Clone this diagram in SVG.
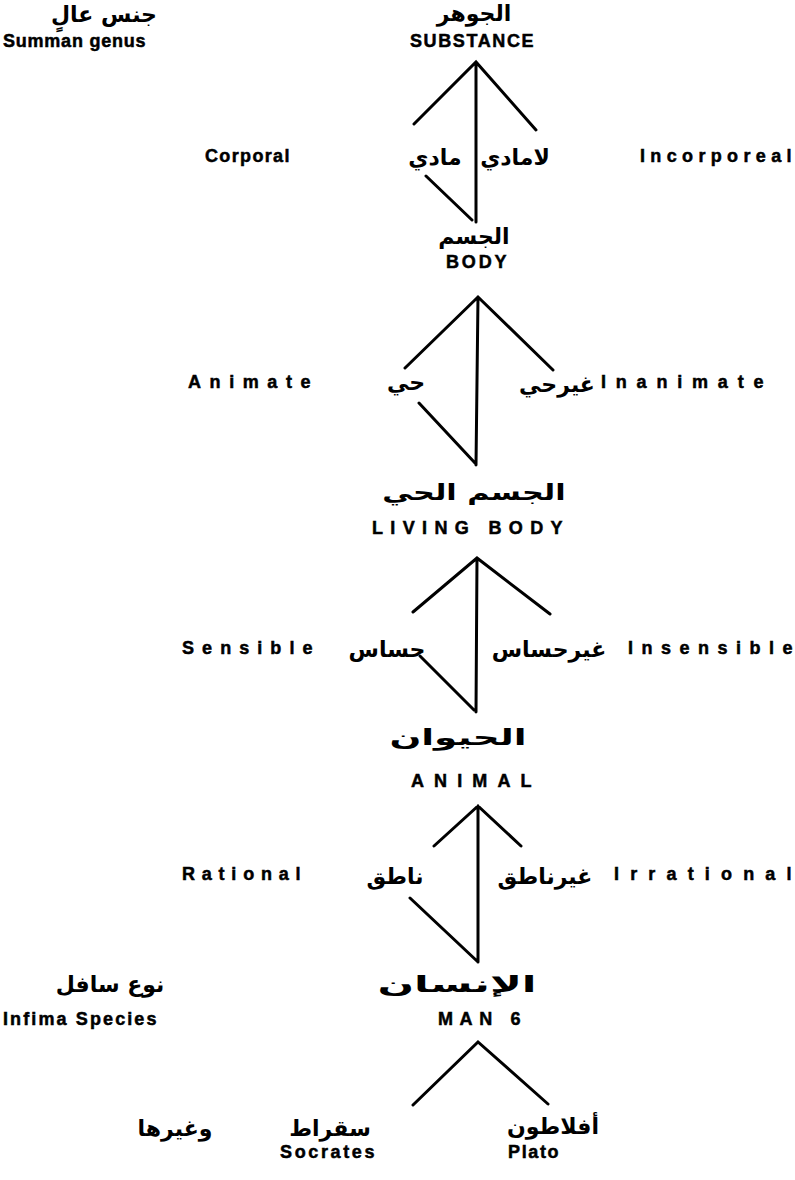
<svg xmlns="http://www.w3.org/2000/svg" width="795" height="1180" viewBox="0 0 795 1180">
<style>
.en{font-family:"Liberation Sans",Arial,sans-serif;font-weight:bold;font-size:18px;fill:#000;stroke:#000;stroke-width:0.5;letter-spacing:1.5px}
.ar{font-family:"DejaVu Sans",sans-serif;font-weight:bold;font-size:22px;fill:#000;text-anchor:middle}
.ln{stroke:#000;stroke-width:3;stroke-linecap:round;fill:none}
</style>
<rect width="795" height="1180" fill="#fff"/>
<g id="summum">
<text class="ar" x="104" y="22" font-size="17">جنس عالٍ</text>
<text class="en" x="3" y="47" textLength="144">Summan genus</text>
</g>
<g id="substance">
<text class="ar" x="474" y="21" font-size="17">الجوهر</text>
<text class="en" x="410" y="47" textLength="125">SUBSTANCE</text>
</g>
<g id="corporal">
<text class="en" x="205" y="162" textLength="86">Corporal</text>
<text class="ar" x="435" y="165" font-size="24">مادي</text>
</g>
<g id="incorporeal">
<text class="ar" x="515" y="165" font-size="22">لامادي</text>
<text class="en" x="640" y="162" textLength="153">Incorporeal</text>
</g>
<g id="body">
<text class="ar" x="474" y="244">الجسم</text>
<text class="en" x="446" y="268" textLength="62">BODY</text>
</g>
<g id="animate">
<text class="en" x="188" y="388" textLength="124">Animate</text>
<text class="ar" x="406" y="390" font-size="24">حي</text>
</g>
<g id="inanimate">
<text class="ar" x="557" y="392" font-size="20">غيرحي</text>
<text class="en" x="601" y="388" textLength="164">Inanimate</text>
</g>
<g id="livingbody">
<text class="ar" transform="translate(474,500) scale(1.38,1)" x="0" y="0" font-size="26">الجسم الحي</text>
<text class="en" x="372" y="534" textLength="192">LIVING BODY</text>
</g>
<g id="sensible">
<text class="en" x="182" y="654" textLength="132">Sensible</text>
<text class="ar" x="387" y="657" font-size="27">حساس</text>
</g>
<g id="insensible">
<text class="ar" x="549" y="657" font-size="24">غيرحساس</text>
<text class="en" x="628" y="654" textLength="166">Insensible</text>
</g>
<g id="animal">
<text class="ar" transform="translate(458,745) scale(1.7,1)" x="0" y="0" font-size="31">الحيوان</text>
<text class="en" x="411" y="787" textLength="122">ANIMAL</text>
</g>
<g id="rational">
<text class="en" x="182" y="880" textLength="120">Rational</text>
<text class="ar" x="395" y="884" font-size="24">ناطق</text>
</g>
<g id="irrational">
<text class="ar" x="545" y="884" font-size="24">غيرناطق</text>
<text class="en" x="614" y="880" textLength="179">Irrational</text>
</g>
<g id="man">
<text class="ar" transform="translate(457,992) scale(1.95,1)" x="0" y="0" font-size="33">الإنسان</text>
<text class="en" x="438" y="1025" textLength="84">MAN 6</text>
</g>
<g id="infima">
<text class="ar" x="110" y="992" font-size="25">نوع سافل</text>
<text class="en" x="3" y="1025" textLength="155">Infima Species</text>
</g>
<g id="socrates">
<text class="ar" x="330" y="1136" font-size="26">سقراط</text>
<text class="ar" x="175" y="1136" font-size="26">وغيرها</text>
<text class="en" x="280" y="1158" textLength="96">Socrates</text>
</g>
<g id="plato">
<text class="ar" x="553" y="1134" font-size="26">أفلاطون</text>
<text class="en" x="508" y="1158" textLength="52">Plato</text>
</g>
<g id="connectors">
<path class="ln" d="M414,124 L476,62 L536,130 M476,62 L476,222 M426,176 L472,220"/>
<path class="ln" d="M405,368 L478,297 L553,370 M478,297 L476,465 M419,403 L475,463"/>
<path class="ln" d="M413,612 L477,558 L550,614 M477,558 L476,712 M420,656 L474,710"/>
<path class="ln" d="M434,846 L478,806 L521,846 M478,806 L478,962 M410,898 L477,961"/>
<path class="ln" d="M413,1105 L478,1042 L548,1104"/>
</g>
</svg>
